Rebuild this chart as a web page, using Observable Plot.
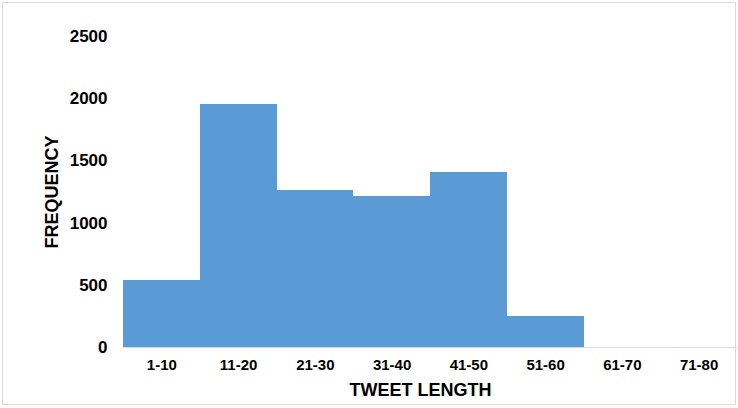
<!DOCTYPE html>
<html>
<head>
<meta charset="utf-8">
<script src="https://cdn.jsdelivr.net/npm/d3@7"></script>
<script src="https://cdn.jsdelivr.net/npm/@observablehq/plot@0.6"></script>
<style>
  html, body { margin: 0; padding: 0; background: #fff; }
  #wrap { position: relative; width: 738px; height: 408px; }
  #border { position: absolute; left: 2px; top: 2px; width: 732px; height: 401px; border: 1px solid #d9d9d9; pointer-events: none; }
</style>
</head>
<body>
<div id="wrap"><div id="border"></div></div>
<script>
const categories = ["1-10", "11-20", "21-30", "31-40", "41-50", "51-60", "61-70", "71-80"];
const frequencies = [538, 1955, 1265, 1215, 1403, 250, 0, 0];
const yTicks = [0, 500, 1000, 1500, 2000, 2500];
const xTitle = "TWEET LENGTH";
const yTitle = "FREQUENCY";

const data = categories.map((c, i) => ({length: c, freq: frequencies[i]}));

const chart = Plot.plot({
  width: 738,
  height: 408,
  marginLeft: 123,
  marginRight: 1,
  marginTop: 36,
  marginBottom: 61,
  style: {fontFamily: "'Liberation Sans', Arial, sans-serif", color: "#000", background: "transparent"},
  x: {domain: categories, padding: 0, round: false},
  y: {domain: [0, 2500]},
  marks: [
    Plot.barY(data, {x: "length", y: "freq", fill: "#5b9bd5", inset: 0, shapeRendering: "crispEdges"}),
    Plot.ruleY([0], {stroke: "#d9d9d9", strokeWidth: 1}),
    Plot.axisY({ticks: yTicks, tickSize: 0, tickPadding: 16, fontSize: 17, fontWeight: "bold", label: null, tickFormat: d => String(d)}),
    Plot.axisX({tickSize: 0, tickPadding: 12, fontSize: 15, fontWeight: "bold", label: null}),
    Plot.text([xTitle], {frameAnchor: "bottom", dy: 48, fontSize: 18, fontWeight: "bold", dx: -10}),
    Plot.text([yTitle], {frameAnchor: "left", textAnchor: "middle", dx: -71, rotate: -90, fontSize: 18, fontWeight: "bold"})
  ]
});
document.getElementById("wrap").appendChild(chart);
</script>
</body>
</html>
